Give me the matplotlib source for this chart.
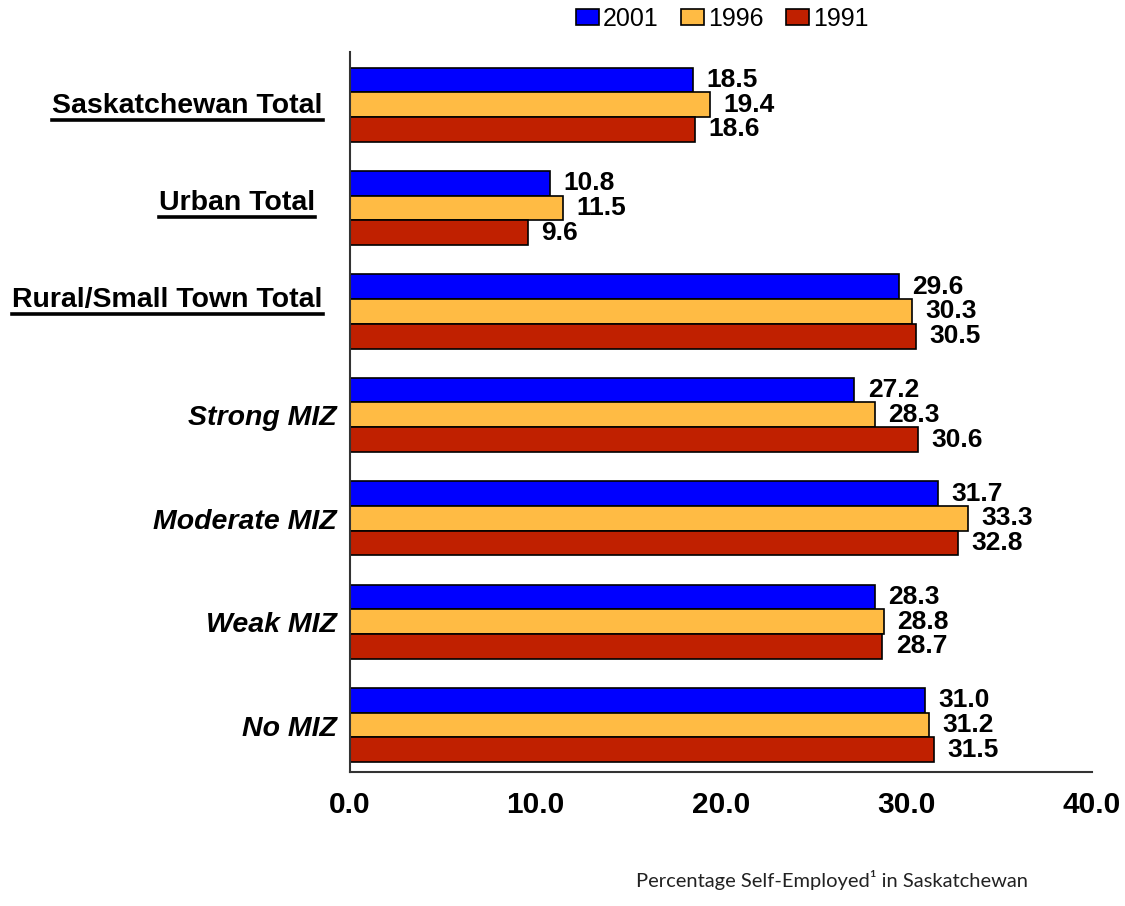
import matplotlib
matplotlib.use("Agg")
import matplotlib.pyplot as plt
from matplotlib.lines import Line2D
import matplotlib.transforms as mtransforms
import numpy as np

categories = ["Saskatchewan Total", "Urban Total", "Rural/Small Town Total",
              "Strong MIZ", "Moderate MIZ", "Weak MIZ", "No MIZ"]
years = ["2001", "1996", "1991"]
v2001 = [18.5, 10.8, 29.6, 27.2, 31.7, 28.3, 31.0]
v1996 = [19.4, 11.5, 30.3, 28.3, 33.3, 28.8, 31.2]
v1991 = [18.6, 9.6, 30.5, 30.6, 32.8, 28.7, 31.5]
xticks = [0, 10, 20, 30, 40]
xlabel = "Percentage Self-Employed\u00b9 in Saskatchewan"

colors = ["#0000FF", "#FFBB44", "#C02000"]
plt.rcParams['font.family'] = ['Liberation Sans', 'DejaVu Sans']

fig = plt.figure(figsize=(11.25, 9.06), dpi=100)
ax = fig.add_axes([0.311, 0.1479, 0.6596, 0.7947])

y = np.arange(len(categories))
h = 0.239
series = [v2001, v1996, v1991]
for i, (vals, c, lab) in enumerate(zip(series, colors, years)):
    pos = y + (i - 1) * h
    ax.barh(pos, vals, height=h, color=c, edgecolor="black", linewidth=1.2, label=lab)
    for p, v in zip(pos, vals):
        ax.text(v + 0.72, p, f"{v:.1f}", va="center", ha="left",
                fontsize=19, fontweight="bold")

ax.set_xlim(0, 40)
ax.set_ylim(6.455, -0.51)
ax.set_xticks(xticks)
ax.set_xticklabels([f"{t:.1f}" for t in xticks], fontsize=21.5, fontweight="bold")
ax.set_yticks([])
ax.tick_params(axis="both", length=0)
ax.tick_params(axis="x", pad=14)
for s in ["top", "right"]:
    ax.spines[s].set_visible(False)
for s in ["left", "bottom"]:
    ax.spines[s].set_color("#333333")
    ax.spines[s].set_linewidth(1.5)

# category labels (layout offsets only)
label_x = [-0.0364, -0.0472, -0.0364, -0.0175, -0.0175, -0.0175, -0.0175]
label_dy = [0.01, -0.047, -0.115, 0.035, 0.035, 0.035, 0.035]
trans = mtransforms.blended_transform_factory(ax.transAxes, ax.transData)
label_texts = []
for k, cat in enumerate(categories):
    t = ax.text(label_x[k], y[k] + label_dy[k], cat, transform=trans,
                ha="right", va="center", fontsize=20.5, fontweight="bold",
                fontstyle="italic" if k >= 3 else "normal", clip_on=False)
    label_texts.append(t)

leg = fig.legend(loc="center", bbox_to_anchor=(0.642, 0.979), ncol=3, frameon=False,
                 fontsize=18, handlelength=0.92, handleheight=0.6, handletextpad=0.15,
                 columnspacing=0.9)

fig.text(0.740, 0.0287, xlabel, ha="center", va="center", fontsize=14.5,
         family=["Lato", "DejaVu Sans"], color="#222222")

# underline the first three category labels
fig.canvas.draw()
r = fig.canvas.get_renderer()
for k, t in enumerate(label_texts):
    if k < 3:
        bb = t.get_window_extent(renderer=r)
        yl = bb.y0 - 1
        fig.add_artist(Line2D([bb.x0 / fig.bbox.width, bb.x1 / fig.bbox.width],
                              [yl / fig.bbox.height, yl / fig.bbox.height],
                              transform=fig.transFigure, color="black", linewidth=2.6))

fig.savefig("out.png", dpi=100)
